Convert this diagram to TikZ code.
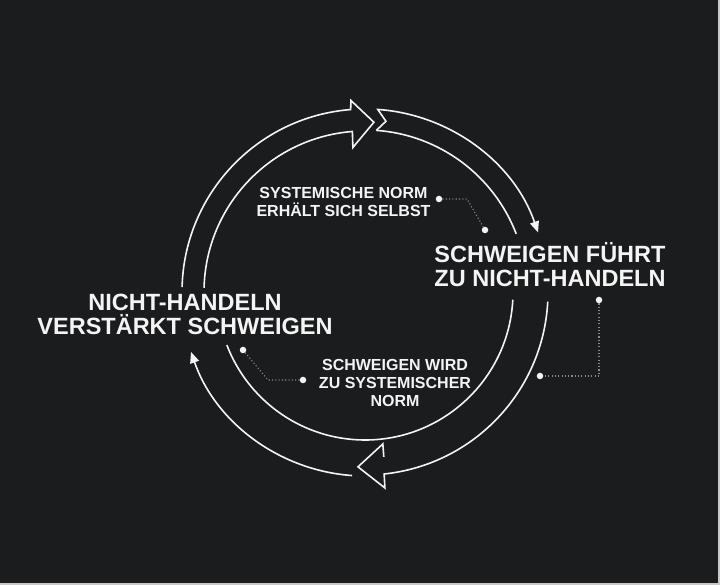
\documentclass[tikz,border=0pt]{standalone}
\usepackage{fontspec}
\setmainfont{Liberation Sans}
\usetikzlibrary{arrows.meta}
\definecolor{bg}{HTML}{1B1C1E}
\definecolor{fg}{HTML}{F4F4F4}
\definecolor{leadgray}{HTML}{8A8A8A}
\definecolor{edgegray}{HTML}{C9C9C9}
\tikzset{
  ring/.style={draw=fg, line width=1.6pt, line join=miter},
  ringarrow/.style={ring, -{Triangle[length=11pt,width=9pt]}},
  biglabel/.style={text=fg, font=\bfseries\fontsize{23.5}{24.5}\selectfont,
    align=center, anchor=south, inner sep=0pt},
  smalllabel/.style={text=fg, font=\bfseries\fontsize{16}{18}\selectfont,
    align=center, anchor=south, inner sep=0pt},
  dot/.style={circle, fill=fg, minimum size=6.5pt, inner sep=0pt},
  leader/.style={draw=leadgray, line width=1.1pt, dash pattern=on 1.1pt off 2.2pt},
}

\begin{document}
\begin{tikzpicture}[x=1pt,y=1pt]
    \fill[bg] (0, 0) rectangle (720, 585) ;
    \useasboundingbox (0, 0) rectangle (720, 585) ;
    \fill[edgegray] (718, 0) rectangle (720, 585) ;
    \fill[edgegray] (0, 0) rectangle (720, 2) ;
    % ring, drawn round its centre
    \begin{scope}[shift={(365, 293)}]
      \draw[ring] (178.5:183) arc[start angle=178.5, end angle=94.5, radius=183]
        -- (94.2:192) -- (87:170) -- (94.8:145) -- (94.5:161)
        arc[start angle=94.5, end angle=178.5, radius=161] ;
      \draw[ringarrow] (86:162) -- (83:172) -- (86:183)
        arc[start angle=86, end angle=19, radius=183] ;
      \draw[ring] (86:162) arc[start angle=86, end angle=21, radius=162] ;
      \draw[ring] (-3:183) arc[start angle=-3, end angle=-84, radius=183]
        -- (-84.2:197) -- (-92.3:175) -- (-83.3:153) -- (-83.5:166) ;
      \draw[ring] (-3:148) arc[start angle=-3, end angle=-159, radius=148] ;
      \draw[ringarrow] (-94:184) arc[start angle=-94, end angle=-161, radius=184] ;
    \end{scope}
    % labels
    \node[biglabel] (inaction) at (185, 250) {NICHT-HANDELN\\VERSTÄRKT SCHWEIGEN} ;
    \node[biglabel] (silence) at (550, 298) {SCHWEIGEN FÜHRT\\ZU NICHT-HANDELN} ;
    \node[smalllabel] (selfnorm) at (343.5, 368) {SYSTEMISCHE NORM\\ERHÄLT SICH SELBST} ;
    \node[smalllabel] (becomesnorm) at (395, 178) {SCHWEIGEN WIRD\\ZU SYSTEMISCHER\\NORM} ;
    % dots and dotted leaders
    \node[dot] (selfnormdot) at (439, 386) {} ;
    \node[dot] (selfnormend) at (485, 355) {} ;
    \coordinate (selfnormbend) at (467, 386) ;
    \draw[leader] (selfnormdot) -- (selfnormbend) -- (selfnormend) ;
    \node[dot] (silencedot) at (599, 285) {} ;
    \node[dot] (silenceend) at (540, 209) {} ;
    \coordinate (silencebend) at (599, 209) ;
    \draw[leader] (silencedot) -- (silencebend) -- (silenceend) ;
    \node[dot] (inactiondot) at (243, 235) {} ;
    \node[dot] (inactionend) at (303, 205) {} ;
    \coordinate (inactionbend) at (268, 205) ;
    \draw[leader] (inactiondot) -- (inactionbend) -- (inactionend) ;
  \end{tikzpicture}
\end{document}
